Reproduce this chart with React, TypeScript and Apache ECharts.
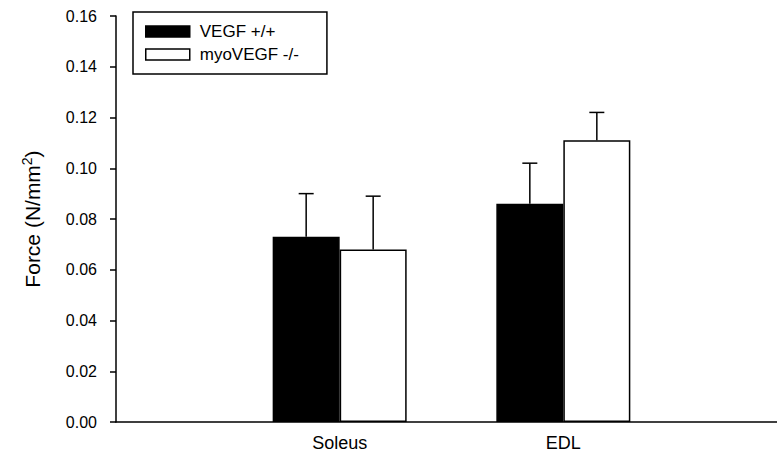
import React, { useEffect, useRef } from "react";
import * as echarts from "echarts";

const categories = ["", "Soleus", "EDL", ""];
const seriesNames = ["VEGF +/+", "myoVEGF -/-"];
const wildTypeMeans: (number | null)[] = [null, 0.073, 0.086, null];
const wildTypeErrors: (number | null)[] = [null, 0.017, 0.016, null];
const knockoutMeans: (number | null)[] = [null, 0.068, 0.111, null];
const knockoutErrors: (number | null)[] = [null, 0.021, 0.011, null];
const yMin = 0;
const yMax = 0.16;
const yInterval = 0.02;

const FONT = "Liberation Sans, Arial, sans-serif";
const BAR_WIDTH = 67;

function errorData(means: (number | null)[], errs: (number | null)[]) {
  const out: number[][] = [];
  means.forEach((m, i) => {
    if (m != null && errs[i] != null) out.push([i, m, errs[i] as number]);
  });
  return out;
}

function makeErrorRenderer(offset: number) {
  return (params: any, api: any) => {
    const idx = api.value(0);
    const mean = api.value(1);
    const err = api.value(2);
    const base = api.coord([idx, mean]);
    const top = api.coord([idx, mean + err]);
    const x = base[0] + offset;
    const style = { stroke: "#000", lineWidth: 1.5 };
    return {
      type: "group",
      children: [
        { type: "line", shape: { x1: x, y1: base[1], x2: x, y2: top[1] }, style },
        { type: "line", shape: { x1: x - 7.5, y1: top[1], x2: x + 7.5, y2: top[1] }, style },
      ],
    };
  };
}

export default function App() {
  const ref = useRef<HTMLDivElement>(null);
  useEffect(() => {
    if (!ref.current) return;
    const chart = echarts.init(ref.current, undefined, { renderer: "svg" });
    chart.setOption({
      animation: false,
      backgroundColor: "#fff",
      grid: { left: 116, top: 16, height: 406, width: 671, outerBoundsMode: "none", containLabel: false },
      legend: {
        orient: "vertical",
        left: 133,
        top: 12,
        padding: [11, 28, 11, 12],
        itemGap: 6,
        itemWidth: 44,
        itemHeight: 11,
        borderColor: "#000",
        borderWidth: 1.5,
        borderRadius: 0,
        icon: "rect",
        textStyle: { fontFamily: FONT, fontSize: 17, color: "#000", lineHeight: 16, padding: [0, 0, 0, 5] },
        data: [
          { name: seriesNames[0], itemStyle: { color: "#000", borderColor: "#000", borderWidth: 1.5 } },
          { name: seriesNames[1], itemStyle: { color: "#fff", borderColor: "#000", borderWidth: 1.5 } },
        ],
      },
      xAxis: {
        type: "category",
        data: categories,
        boundaryGap: false,
        axisLine: { lineStyle: { color: "#000", width: 1.5 } },
        axisTick: { show: false },
        axisLabel: { color: "#000", fontFamily: FONT, fontSize: 18, margin: 12, interval: 0 },
        splitLine: { show: false },
      },
      yAxis: {
        type: "value",
        min: yMin,
        max: yMax,
        interval: yInterval,
        axisLine: { show: true, lineStyle: { color: "#000", width: 1.5 } },
        axisTick: { show: true, inside: false, length: 6, lineStyle: { color: "#000", width: 1.5 } },
        axisLabel: {
          color: "#000",
          fontFamily: FONT,
          fontSize: 16,
          margin: 19,
          formatter: (v: number) => v.toFixed(2),
        },
        splitLine: { show: false },
        name: "Force (N/mm{sup|2})",
        nameLocation: "middle",
        nameGap: 72,
        nameRotate: 90,
        nameTextStyle: {
          fontFamily: FONT,
          fontSize: 21,
          color: "#000",
          rich: {
            sup: { fontFamily: FONT, fontSize: 14, color: "#000", padding: [0, 0, 10, 0] },
          },
        },
      },
      series: [
        {
          name: seriesNames[0],
          type: "bar",
          data: wildTypeMeans,
          barWidth: BAR_WIDTH,
          barGap: "0%",
          itemStyle: { color: "#000", borderColor: "#000", borderWidth: 1.5 },
        },
        {
          name: seriesNames[1],
          type: "bar",
          data: knockoutMeans,
          barWidth: BAR_WIDTH,
          barGap: "0%",
          itemStyle: { color: "#fff", borderColor: "#000", borderWidth: 1.5 },
        },
        {
          name: "err1",
          type: "custom",
          data: errorData(wildTypeMeans, wildTypeErrors),
          renderItem: makeErrorRenderer(-BAR_WIDTH / 2),
          z: 5,
          silent: true,
        },
        {
          name: "err2",
          type: "custom",
          data: errorData(knockoutMeans, knockoutErrors),
          renderItem: makeErrorRenderer(BAR_WIDTH / 2),
          z: 5,
          silent: true,
        },
      ],
    });
    return () => chart.dispose();
  }, []);
  return (
    <div
      ref={ref}
      style={{ position: "absolute", left: 0, top: 0, width: 777, height: 456 }}
    />
  );
}
